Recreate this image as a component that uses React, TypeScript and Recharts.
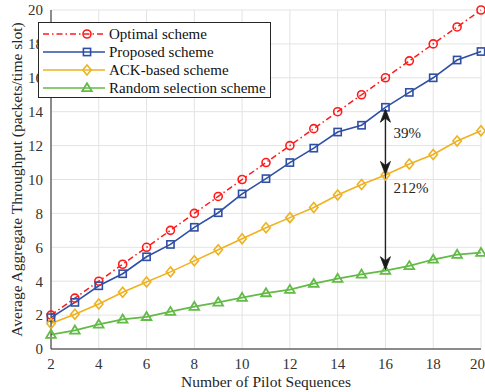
import React from 'react'
import {
  LineChart,
  Line,
  XAxis,
  YAxis,
  CartesianGrid,
  ReferenceLine,
  ReferenceDot,
} from 'recharts'

const pilots = [2, 3, 4, 5, 6, 7, 8, 9, 10, 11, 12, 13, 14, 15, 16, 17, 18, 19, 20]
const optimal = [2, 3, 4, 5, 6, 7, 8, 9, 10, 11, 12, 13, 14, 15, 16, 17, 18, 19, 20]
const proposed = [1.85, 2.75, 3.73, 4.44, 5.44, 6.17, 7.18, 8.04, 9.15, 10.05, 11.0, 11.85, 12.8, 13.2, 14.26, 15.14, 16.0, 17.05, 17.55]
const ackBased = [1.5, 2.05, 2.65, 3.35, 3.95, 4.55, 5.2, 5.85, 6.5, 7.15, 7.75, 8.35, 9.08, 9.7, 10.27, 10.91, 11.48, 12.27, 12.88]
const randomSel = [0.85, 1.1, 1.45, 1.75, 1.9, 2.2, 2.5, 2.75, 3.03, 3.3, 3.5, 3.85, 4.15, 4.4, 4.62, 4.9, 5.28, 5.57, 5.68]
const xTicks = [2, 4, 6, 8, 10, 12, 14, 16, 18, 20]
const yTicks = [0, 2, 4, 6, 8, 10, 12, 14, 16, 18, 20]

const FONT = '"Liberation Serif", "DejaVu Serif", serif'
const RED = '#ff1a1a'
const BLUE = '#2f4fa5'
const YELLOW = '#eeb220'
const GREEN = '#62bb46'

const data = pilots.map((x, i) => ({
  x,
  optimal: optimal[i],
  proposed: proposed[i],
  ack: ackBased[i],
  random: randomSel[i],
}))

type Kind = 'circle' | 'square' | 'diamond' | 'triangle'

const Marker = ({ kind, cx, cy, color }: { kind: Kind; cx: number; cy: number; color: string }) => {
  if (kind === 'circle') return <circle cx={cx} cy={cy} r={4} fill="none" stroke={color} strokeWidth={1.6} />
  if (kind === 'square') return <rect x={cx - 3.6} y={cy - 3.6} width={7.2} height={7.2} fill="none" stroke={color} strokeWidth={1.6} />
  if (kind === 'diamond')
    return <path d={`M${cx},${cy - 5} L${cx + 4.2},${cy} L${cx},${cy + 5} L${cx - 4.2},${cy} Z`} fill="none" stroke={color} strokeWidth={1.6} />
  return <path d={`M${cx},${cy - 4.8} L${cx + 4.8},${cy + 3.2} L${cx - 4.8},${cy + 3.2} Z`} fill="none" stroke={color} strokeWidth={1.8} />
}

const dotFor = (kind: Kind, color: string) => (p: any) => (
  <Marker key={`${kind}-${p.index}`} kind={kind} cx={p.cx} cy={p.cy} color={color} />
)

const ArrowHead = ({ cx, cy, up }: any) => {
  const s = up ? 1 : -1
  // concave matlab style head, tip at (cx, cy)
  const d = `M${cx},${cy} L${cx - 5},${cy + s * 13} L${cx},${cy + s * 9} L${cx + 5},${cy + s * 13} Z`
  return <path d={d} fill="#1a1a1a" stroke="#1a1a1a" strokeWidth={0.8} />
}

const Note = ({ cx, cy, text }: any) => (
  <text x={cx + 8} y={cy} dy="0.35em" fontFamily={FONT} fontSize={15} fill="#262626">
    {text}
  </text>
)

const legendItems: { name: string; color: string; kind: Kind; dash?: string }[] = [
  { name: 'Optimal scheme', color: RED, kind: 'circle', dash: '6 3 1.5 3' },
  { name: 'Proposed scheme', color: BLUE, kind: 'square' },
  { name: 'ACK-based scheme', color: YELLOW, kind: 'diamond' },
  { name: 'Random selection scheme', color: GREEN, kind: 'triangle' },
]

const tickStyle = { fontFamily: FONT, fontSize: 15, fill: '#333' }

export default function App() {
  return (
    <div style={{ position: 'absolute', left: 0, top: 0, width: 485, height: 392, background: '#fff' }}>
      <LineChart width={485} height={392} data={data} margin={{ top: 10, right: 4, bottom: 0, left: 0 }}>
        <CartesianGrid stroke="#e3e3e3" strokeWidth={1} />
        <XAxis
          dataKey="x"
          type="number"
          domain={[2, 20]}
          ticks={xTicks}
          tick={tickStyle}
          tickLine={false}
          tickSize={6}
          tickMargin={3}
          height={43}
          axisLine={{ stroke: '#262626' }}
          label={{ value: 'Number of Pilot Sequences', position: 'insideBottom', offset: 5, style: { fontFamily: FONT, fontSize: 15.5, fill: '#262626' } }}
        />
        <XAxis xAxisId="top" orientation="top" type="number" domain={[2, 20]} height={0} tick={false} tickLine={false} axisLine={{ stroke: '#262626' }} />
        <YAxis
          type="number"
          domain={[0, 20]}
          ticks={yTicks}
          tick={tickStyle}
          tickLine={false}
          tickSize={6}
          tickMargin={2}
          width={51}
          axisLine={{ stroke: '#262626' }}
          label={{
            value: 'Average Aggregate Throughput (packets/time slot)',
            angle: -90,
            position: 'insideLeft',
            offset: 16,
            style: { fontFamily: FONT, fontSize: 15.5, fill: '#262626', textAnchor: 'middle' },
          }}
        />
        <YAxis yAxisId="right" orientation="right" type="number" domain={[0, 20]} width={0} tick={false} tickLine={false} axisLine={{ stroke: '#262626' }} />
        <Line dataKey="optimal" stroke={RED} strokeWidth={1.5} strokeDasharray="6 3 1.5 3" dot={dotFor('circle', RED)} isAnimationActive={false} />
        <Line dataKey="proposed" stroke={BLUE} strokeWidth={1.6} dot={dotFor('square', BLUE)} isAnimationActive={false} />
        <Line dataKey="ack" stroke={YELLOW} strokeWidth={1.6} dot={dotFor('diamond', YELLOW)} isAnimationActive={false} />
        <Line dataKey="random" stroke={GREEN} strokeWidth={1.8} dot={dotFor('triangle', GREEN)} isAnimationActive={false} />
        <ReferenceLine segment={[{ x: 16, y: 14.15 }, { x: 16, y: 4.68 }]} stroke="#222" strokeWidth={1.4} />
        <ReferenceDot x={16} y={14.15} shape={(p: any) => <ArrowHead {...p} up />} />
        <ReferenceDot x={16} y={10.3} shape={(p: any) => <ArrowHead {...p} up={false} />} />
        <ReferenceDot x={16} y={4.68} shape={(p: any) => <ArrowHead {...p} up={false} />} />
        <ReferenceDot x={16} y={12.75} shape={(p: any) => <Note {...p} text="39%" />} />
        <ReferenceDot x={16} y={9.5} shape={(p: any) => <Note {...p} text="212%" />} />
      </LineChart>
      <div
        style={{
          position: 'absolute',
          left: 38,
          top: 22,
          width: 231,
          height: 74,
          border: '1px solid #262626',
          background: '#fff',
          fontFamily: FONT,
          fontSize: 15,
          color: '#111',
          boxSizing: 'content-box',
        }}
      >
        {legendItems.map((it, i) => (
          <div key={it.name} style={{ position: 'absolute', left: 3, top: 2 + i * 18, height: 18, display: 'flex', alignItems: 'center' }}>
            <svg width={64} height={18}>
              <line x1={1} y1={9} x2={63} y2={9} stroke={it.color} strokeWidth={1.6} strokeDasharray={it.dash} />
              <Marker kind={it.kind} cx={45} cy={9} color={it.color} />
            </svg>
            <span style={{ marginLeft: 3, whiteSpace: 'nowrap' }}>{it.name}</span>
          </div>
        ))}
      </div>
    </div>
  )
}
